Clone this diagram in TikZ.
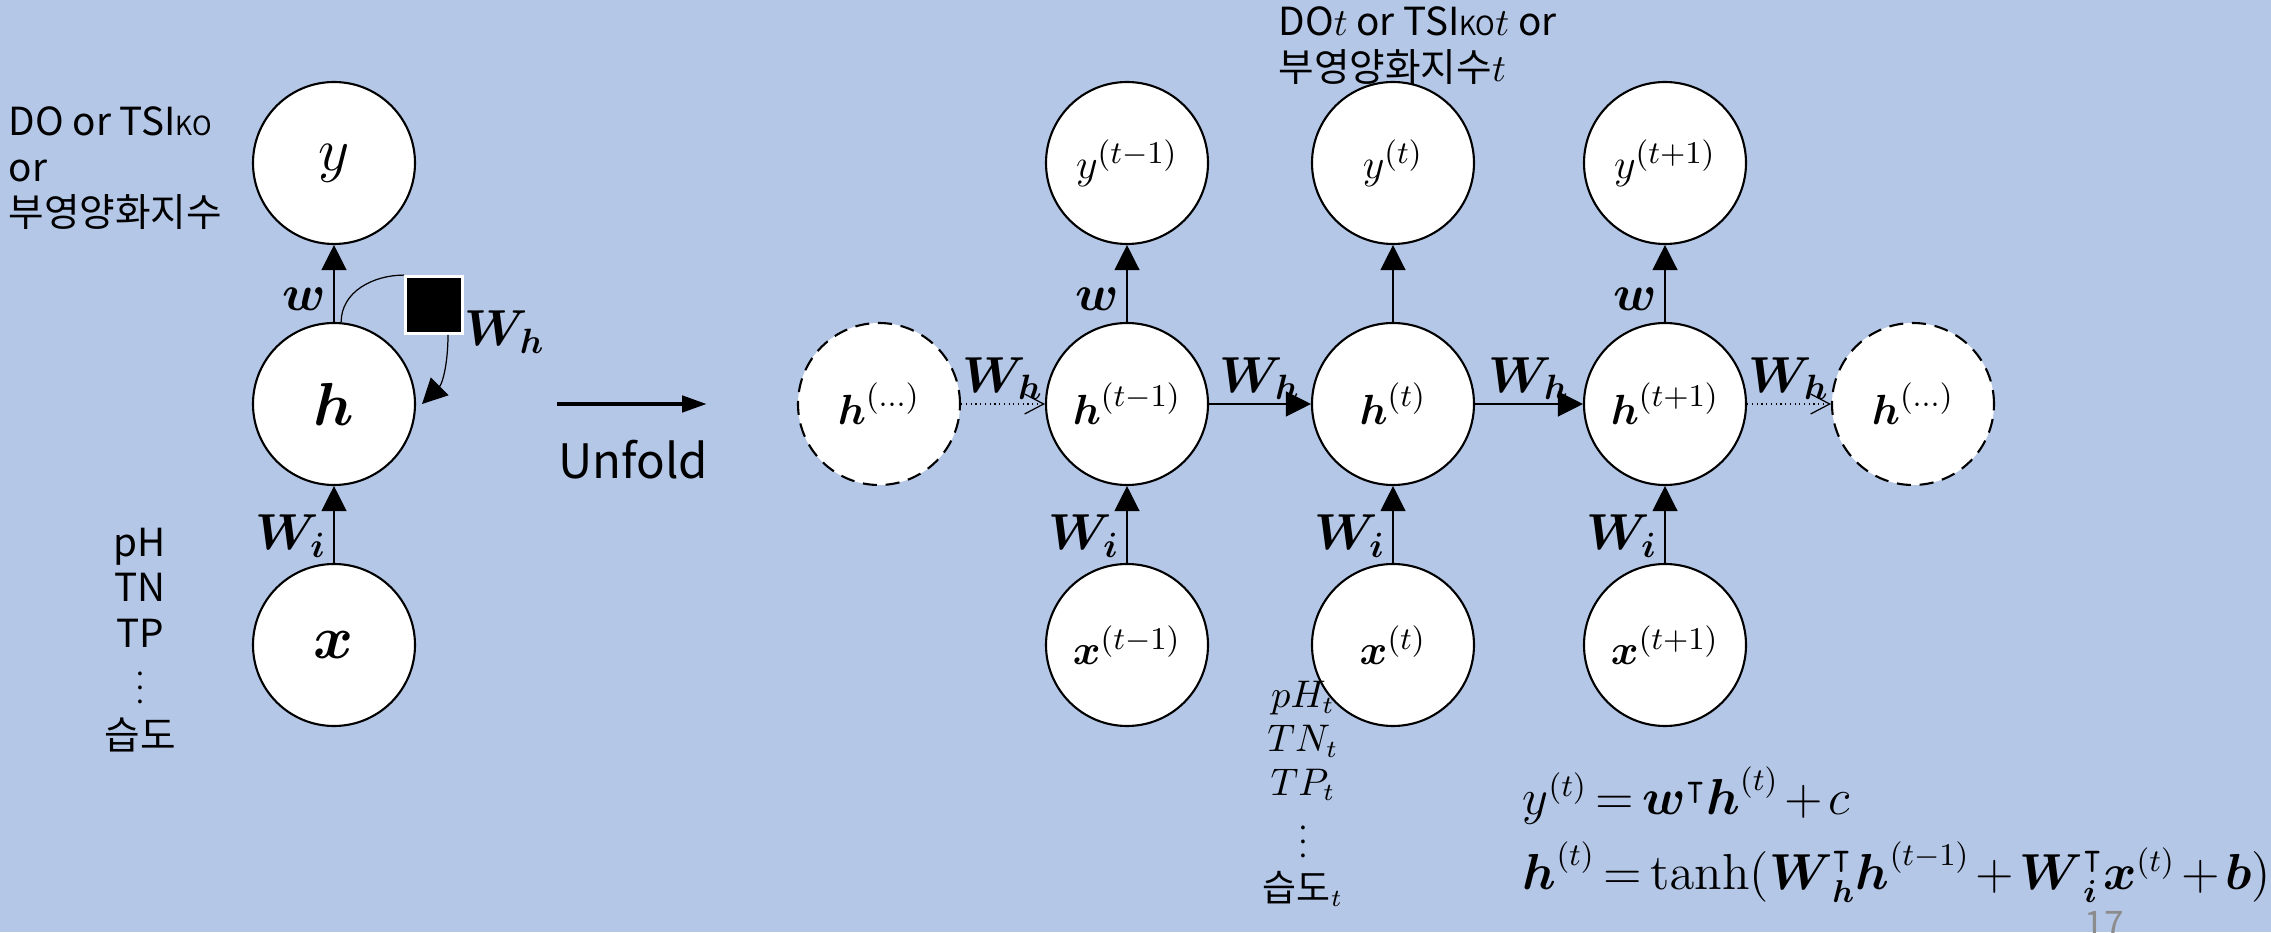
\documentclass[tikz,border=0pt]{standalone}
\usepackage{amsmath,amssymb}
\usepackage[no-math]{fontspec}
\setmainfont{Noto Sans CJK KR}
\usetikzlibrary{arrows.meta}
\definecolor{slidebg}{RGB}{180,199,231}
\definecolor{pagegray}{RGB}{140,140,140}
\newcommand{\bv}[1]{\boldsymbol{#1}}
\newcommand{\ko}{{\fontsize{7.5}{8}\selectfont KO}}
\newcommand{\smalldots}{{\fontsize{8}{8}\selectfont$\vdots$}}
\begin{document}
\begin{tikzpicture}[
  unit/.style={circle,draw,fill=white,line width=0.6pt,minimum size=1.62cm,inner sep=0pt},
  ghost/.style={unit,dash pattern=on 4pt off 2.5pt},
  bigfont/.style={font=\fontsize{19}{22}\selectfont},
  midfont/.style={font=\fontsize{12.5}{15}\selectfont},
  smallfont/.style={font=\fontsize{11}{13}\selectfont},
  wlabel/.style={font=\fontsize{14.5}{17}\selectfont,inner sep=2pt},
  eqfont/.style={font=\fontsize{13.4}{16}\selectfont,inner sep=0pt},
  flow/.style={line width=0.35pt,-{Triangle[length=0.25cm,width=0.25cm]}},
  fade/.style={line width=0.35pt,densely dotted,-{Straight Barb[length=0.19cm,width=0.2cm]}}
]
\fill[slidebg] (0,0) rectangle (22.71,9.32);
\useasboundingbox (0,0) rectangle (22.71,9.32);

\node[unit,bigfont] (y) at (3.34,7.69) {$y$};
\node[unit,bigfont] (h) at (3.34,5.28) {$\bv{h}$};
\node[unit,bigfont] (x) at (3.34,2.87) {$\bv{x}$};
\draw[flow] (x) -- (h) node[wlabel,pos=0.35,left] {$\bv{W_i}$};
\draw[flow] (h) -- (y) node[wlabel,pos=0.3,left] {$\bv{w}$};
\node[fill=black,draw=white,line width=0.8pt,minimum size=0.57cm,inner sep=0pt] (sq) at (4.34,6.27) {};
\draw[line width=0.35pt] (h.85) to[out=90,in=180] (sq.north west);
\draw[flow] ([xshift=0.14cm]sq.south) to[out=-90,in=45] ([xshift=0.06cm]h.east);
\node[wlabel,anchor=west,inner sep=0pt] (whloop) at ([yshift=-0.27cm]sq.east) {$\bv{W_h}$};
\node[smallfont,align=left,anchor=north west,inner sep=0pt] (outtxt) at (0.08,8.26) {DO or TSI\ko\\or\\부영양화지수};
\node[smallfont,align=center,inner sep=0pt] (intxt) at (1.40,2.92) {pH\\TN\\TP\\\smalldots\\습도};

\coordinate (u1) at (5.57,5.28);
\coordinate (u2) at (7.07,5.28);
\draw[line width=1.3pt,-{Triangle[length=0.25cm,width=0.16cm]}] (u1) -- (u2);
\node[font=\fontsize{13.5}{16}\selectfont] (unfold) at (6.33,4.72) {Unfold};

\node[ghost,midfont] (hl) at (8.79,5.28) {$\bv{h}^{(\ldots)}$};
\node[ghost,midfont] (hr) at (19.13,5.28) {$\bv{h}^{(\ldots)}$};
\foreach \n/\c/\s in {a/11.27/t-1, b/13.93/t, c/16.65/t+1}{
  \node[unit,midfont] (y\n) at (\c,7.69) {$y^{(\s)}$};
  \node[unit,midfont] (h\n) at (\c,5.28) {$\bv{h}^{(\s)}$};
  \node[unit,midfont] (x\n) at (\c,2.87) {$\bv{x}^{(\s)}$};
  \draw[flow] (x\n) -- (h\n) node[wlabel,pos=0.35,left] {$\bv{W_i}$};
}
\draw[flow] (ha) -- (ya) node[wlabel,pos=0.3,left] {$\bv{w}$};
\draw[flow] (hb) -- (yb);
\draw[flow] (hc) -- (yc) node[wlabel,pos=0.3,left] {$\bv{w}$};
\draw[fade] (hl) -- (ha) node[wlabel,midway,above,inner sep=1pt] {$\bv{W_h}$};
\draw[flow] (ha) -- (hb) node[wlabel,midway,above,inner sep=1pt] {$\bv{W_h}$};
\draw[flow] (hb) -- (hc) node[wlabel,midway,above,inner sep=1pt] {$\bv{W_h}$};
\draw[fade] (hc) -- (hr) node[wlabel,midway,above,inner sep=1pt] {$\bv{W_h}$};

\node[smallfont,align=left,anchor=north west,inner sep=0pt] (outtxt2) at (12.78,9.26) {DO$t$ or TSI\ko$t$ or\\부영양화지수$t$};
\node[font=\fontsize{10.5}{12.5}\selectfont,align=center,inner sep=0pt] (intxt2) at (13.03,1.38) {$pH_t$\\$TN_t$\\$TP_t$\\\smalldots\\습도$_t$};
\node[eqfont,anchor=west] (eq1) at (15.22,1.36) {$\thickmuskip=3mu\medmuskip=2mu y^{(t)}=\bv{w}^{\intercal}\bv{h}^{(t)}+c$};
\node[eqfont,anchor=west] (eq2) at (15.22,0.60) {$\thickmuskip=3mu\medmuskip=2mu \bv{h}^{(t)}=\tanh(\bv{W}_{\bv{h}}^{\intercal}\bv{h}^{(t-1)}+\bv{W}_{\bv{i}}^{\intercal}\bv{x}^{(t)}+\bv{b})$};
\node[text=pagegray,font=\fontsize{10}{11}\selectfont,inner sep=0pt] (pg) at (21.04,0.08) {17};
\end{tikzpicture}
\end{document}
